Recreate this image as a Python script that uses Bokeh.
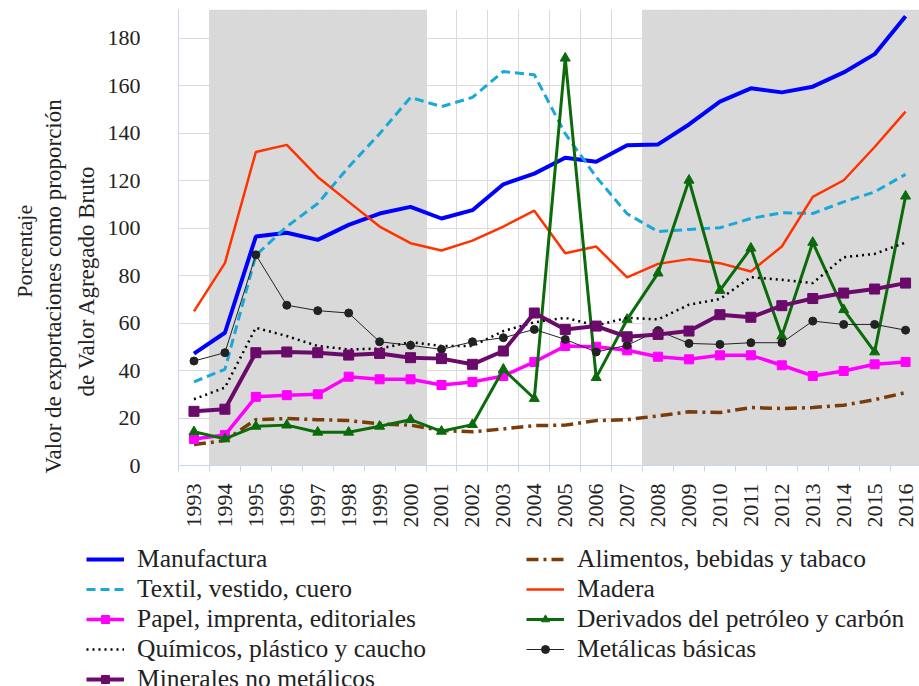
import numpy as np
from bokeh.plotting import figure
from bokeh.models import Range1d, FixedTicker, BoxAnnotation, Legend, LegendItem, Title
from bokeh.embed import file_html
from bokeh.resources import INLINE

years = list(range(1993, 2017))
y_ticks = [0, 20, 40, 60, 80, 100, 120, 140, 160, 180]

manufactura = [47.1, 55.9, 96.4, 98.0, 95.0, 101.3, 106.1, 108.9, 104.0, 107.5, 118.4, 122.9,
               129.6, 127.9, 134.8, 135.2, 143.6, 153.2, 158.8, 157.1, 159.5, 165.5, 173.2, 189.2]
textil = [35.2, 40.5, 88.5, 100.6, 110.3, 125.7, 139.7, 155.0, 151.1, 155.0, 165.9, 164.5,
          139.7, 121.5, 106.0, 98.5, 99.4, 100.1, 104.0, 106.4, 106.1, 111.0, 115.2, 122.6]
madera = [64.9, 85.2, 132.0, 135.0, 121.5, 111.0, 100.6, 93.6, 90.5, 94.7, 100.6, 107.3,
          89.4, 92.2, 79.2, 84.9, 86.9, 85.2, 81.7, 92.2, 113.1, 120.1, 134.1, 149.0]
papel = [11.2, 12.8, 28.9, 29.6, 30.0, 37.4, 36.3, 36.3, 33.9, 35.2, 37.7, 43.6,
         50.3, 50.0, 48.5, 45.8, 44.7, 46.4, 46.4, 42.2, 37.7, 39.8, 42.6, 43.6]
quimicos = [27.9, 32.8, 58.0, 54.5, 50.3, 48.9, 49.2, 52.0, 50.3, 50.3, 56.6, 60.3,
            62.2, 58.9, 62.2, 61.5, 67.7, 70.1, 79.3, 78.2, 76.8, 87.7, 89.1, 93.9]
minerales = [22.8, 23.7, 47.5, 47.8, 47.5, 46.5, 47.2, 45.4, 45.0, 42.6, 48.2, 64.2,
             57.3, 58.7, 54.2, 55.2, 56.6, 63.5, 62.4, 67.3, 70.3, 72.6, 74.3, 76.8]
metalicas = [44.0, 47.5, 88.7, 67.5, 65.2, 64.2, 52.1, 50.6, 48.9, 52.1, 53.8, 57.3,
             53.1, 47.8, 50.6, 56.8, 51.4, 51.0, 51.7, 51.7, 60.8, 59.4, 59.4, 57.0]
alimentos = [8.8, 10.5, 19.3, 19.8, 19.3, 18.9, 17.5, 17.0, 14.7, 14.2, 15.4, 16.8,
             17.0, 18.9, 19.3, 20.9, 22.6, 22.3, 24.4, 24.0, 24.4, 25.4, 27.7, 30.7]
derivados = [14.2, 11.2, 16.5, 17.0, 14.0, 14.0, 16.5, 19.3, 14.4, 17.2, 40.5, 28.2,
             171.5, 37.0, 61.5, 81.0, 120.1, 73.7, 91.5, 54.5, 93.9, 65.6, 47.8, 113.4]

shaded_periods = [(1994, 2000), (2008, 2016)]

FONT = "Liberation Serif"
TXT = "#222222"
bounds = [y - 0.5 for y in years] + [years[-1] + 0.5]

p = figure(width=919, height=530, output_backend="svg", toolbar_location=None,
           x_range=Range1d(years[0] - 0.5, years[-1] + 0.45), y_range=Range1d(0, 192),
           min_border_left=178, min_border_right=0, min_border_top=9, min_border_bottom=64)
p.outline_line_color = None

p.xgrid.ticker = FixedTicker(ticks=bounds)
p.xgrid.grid_line_color = "#DADADA"
p.ygrid.grid_line_color = "#DADADA"

for a, b in shaded_periods:
    p.add_layout(BoxAnnotation(left=a - 0.5, right=b + 0.5, fill_color="#D9D9D9",
                               fill_alpha=1.0, line_color=None, level="underlay"))

p.xaxis.ticker = FixedTicker(ticks=years, minor_ticks=bounds)
p.xaxis.major_tick_out = 0
p.xaxis.major_tick_in = 0
p.xaxis.minor_tick_out = 6
p.xaxis.minor_tick_in = 0
p.xaxis.minor_tick_line_color = "#C9D7EA"
p.xaxis.axis_line_color = "#C9D7EA"
p.xaxis.major_label_orientation = np.pi / 2
p.xaxis.major_label_standoff = 12
p.xaxis.major_label_text_font = FONT
p.xaxis.major_label_text_font_size = "22px"
p.xaxis.major_label_text_color = TXT

p.yaxis.ticker = FixedTicker(ticks=y_ticks)
p.yaxis.major_tick_out = 0
p.yaxis.major_tick_in = 0
p.yaxis.minor_tick_line_color = None
p.yaxis.axis_line_color = "#C9D7EA"
p.yaxis.major_label_standoff = 38
p.yaxis.major_label_text_font = FONT
p.yaxis.major_label_text_font_size = "22px"
p.yaxis.major_label_text_color = TXT

# trailing blanks nudge the centred vertical titles slightly downwards
for txt, size, so, pad in [("de Valor Agregado Bruto", "23px", 12, 15),
                           ("Valor de exportaciones como proporción", "23px", 0, 17),
                           ("Porcentaje", "22px", 4, 5)]:
    p.add_layout(Title(text=txt + " " * pad, align="center", text_font=FONT,
                       text_font_size=size, text_font_style="normal", text_color=TXT,
                       standoff=so), "left")

# legend panel: a second root below the chart
q = figure(width=919, height=156, output_backend="svg", toolbar_location=None,
           x_axis_location=None, y_axis_location=None, x_range=Range1d(0, 1),
           y_range=Range1d(0, 1),
           min_border_left=0, min_border_right=0, min_border_top=0, min_border_bottom=0)
q.outline_line_color = None
q.xgrid.visible = False
q.ygrid.visible = False

items = {}

def series(name, vals, color, width, dash="solid", marker=None, msize=9):
    lg = []
    for fig, store in ((p, None), (q, lg)):
        r = fig.line(years, vals, line_color=color, line_width=width, line_dash=dash)
        if store is not None:
            store.append(r)
        if marker:
            s = fig.scatter(years, vals, marker=marker, size=msize, fill_color=color,
                            line_color=color)
            if store is not None:
                store.append(s)
    items[name] = lg

series("Manufactura", manufactura, "#0000FF", 4)
series("Alimentos, bebidas y tabaco", alimentos, "#7A3C0A", 3.5, "12 5 3 5")
series("Textil, vestido, cuero", textil, "#1AA8D8", 3, "9 5")
series("Madera", madera, "#FF3300", 2.5)
series("Papel, imprenta, editoriales", papel, "#FF00FF", 3.5, marker="square", msize=9)
series("Derivados del petróleo y carbón", derivados, "#0B6B0B", 3, marker="triangle", msize=10)
series("Químicos, plástico y caucho", quimicos, "#000000", 2.5, "2 4")
series("Metálicas básicas", metalicas, "#222222", 1, marker="circle", msize=8)
series("Minerales no metálicos", minerales, "#6A0A6A", 4, marker="square", msize=10)

order = ["Manufactura", "Textil, vestido, cuero", "Papel, imprenta, editoriales",
         "Químicos, plástico y caucho", "Minerales no metálicos",
         "Alimentos, bebidas y tabaco", "Madera", "Derivados del petróleo y carbón",
         "Metálicas básicas"]

legend = Legend(items=[LegendItem(label=n, renderers=items[n]) for n in order],
                orientation="vertical", nrows=5, location=(86, -8),
                label_text_font=FONT, label_text_font_size="25.5px", label_text_color=TXT,
                glyph_width=38, glyph_height=20, label_standoff=13, label_width=389,
                spacing=0, padding=0, margin=0, border_line_color=None,
                background_fill_alpha=0)
q.add_layout(legend, "center")

open("out.html", "w").write(file_html([p, q], INLINE))
